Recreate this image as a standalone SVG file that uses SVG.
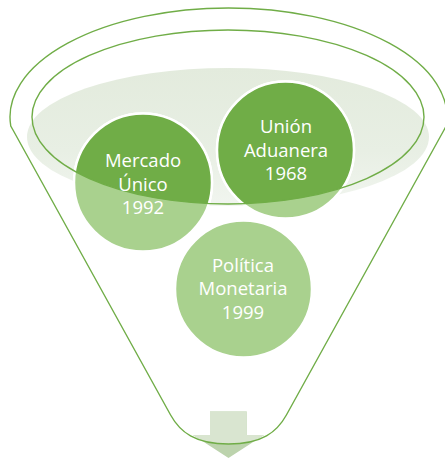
<svg xmlns="http://www.w3.org/2000/svg" width="445" height="463" viewBox="0 0 445 463">
  <style>
    .line { fill: none; stroke: #70AD47; stroke-width: 1.4; }
    .circ { fill: #A9D18E; stroke: #FFFFFF; stroke-width: 2.5; }
    .circDark { fill: #70AD47; stroke: #FFFFFF; stroke-width: 2.5; }
    .lbl { font-family: "Open Sans", "Liberation Sans", sans-serif; font-size: 18.5px; fill: #FFFFFF; text-anchor: middle; }
  </style>
  <defs>
    <linearGradient id="lightGrad" x1="0" y1="0" x2="0" y2="1">
      <stop offset="0" stop-color="#E3EBDD"/>
      <stop offset="0.6" stop-color="#E8EFE4"/>
      <stop offset="1" stop-color="#F1F5EF"/>
    </linearGradient>
    <clipPath id="innerClip">
      <ellipse cx="228" cy="117" rx="196" ry="87"/>
    </clipPath>
    <clipPath id="funnelClip">
      <path d="M13,130 L10.75,126 A218.5 109 0 1 1 446.25,126 L444,130 L286.4,415 C277,432 262,444 228.5,444 C195,444 180,432 170.6,415 Z"/>
    </clipPath>
  </defs>

  <!-- background light ellipse -->
  <ellipse cx="228" cy="137" rx="201" ry="69" fill="url(#lightGrad)"/>

  <!-- arrow at the bottom -->
  <g id="arrow">
    <path d="M210,411.5 L246.7,411.5 L246.7,435 L264,435 L228.5,458 L193,435 L210,435 Z" fill="#BCD3AD"/>
    <path d="M210,411.5 L246.7,411.5 L246.7,435 L264,435 L228.5,458 L193,435 L210,435 Z" fill="#D9E5D0" clip-path="url(#funnelClip)"/>
  </g>

  <g id="node-mercado">
    <circle class="circ" cx="143" cy="182.5" r="69"/>
    <circle class="circDark" cx="143" cy="182.5" r="69" clip-path="url(#innerClip)"/>
  </g>
  <g id="node-union">
    <circle class="circ" cx="285.5" cy="150" r="68.5"/>
    <circle class="circDark" cx="285.5" cy="150" r="68.5" clip-path="url(#innerClip)"/>
  </g>
  <g id="node-politica">
    <circle class="circ" cx="243.5" cy="289" r="68.5"/>
  </g>

  <!-- funnel outlines -->
  <g id="funnel">
    <ellipse class="line" cx="228" cy="117" rx="196" ry="87"/>
    <path class="line" d="M13,130 L10.75,126 A218.5 109 0 1 1 446.25,126 L444,130 L286.4,415 C277,432 262,444 228.5,444 C195,444 180,432 170.6,415 Z"/>
  </g>

  <g id="labels">
    <text class="lbl" x="143" y="167">Mercado</text>
    <text class="lbl" x="143" y="190.5">Único</text>
    <text class="lbl" x="143" y="214">1992</text>
    <text class="lbl" x="286" y="133">Unión</text>
    <text class="lbl" x="286" y="156.5">Aduanera</text>
    <text class="lbl" x="286" y="180">1968</text>
    <text class="lbl" x="243" y="271.5">Política</text>
    <text class="lbl" x="243" y="295">Monetaria</text>
    <text class="lbl" x="243" y="318.5">1999</text>
  </g>
  <g id="connectors"/>
</svg>
